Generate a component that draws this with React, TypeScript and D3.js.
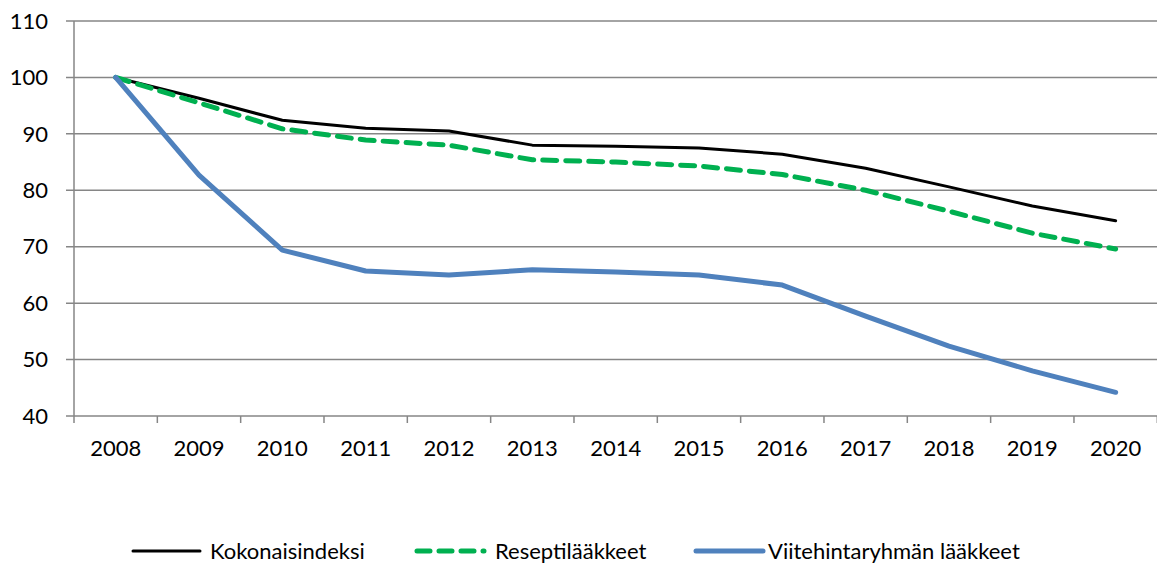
import React from "react";
import * as d3 from "d3";

const years = ["2008","2009","2010","2011","2012","2013","2014","2015","2016","2017","2018","2019","2020"];
const kokonais = [100, 96.3, 92.4, 91.0, 90.5, 88.0, 87.8, 87.5, 86.4, 83.9, 80.6, 77.2, 74.6];
const resepti = [100, 95.5, 90.9, 88.9, 88.0, 85.4, 85.0, 84.3, 82.8, 80.0, 76.3, 72.4, 69.6];
const viite = [100, 82.7, 69.4, 65.7, 65.0, 65.9, 65.5, 65.0, 63.2, 57.7, 52.4, 48.0, 44.2];
const yTicks = [40, 50, 60, 70, 80, 90, 100, 110];

const series = [
  { name: "Kokonaisindeksi", values: kokonais, color: "#000000", width: 3, dash: null as string | null },
  { name: "Reseptilääkkeet", values: resepti, color: "#00B050", width: 5, dash: "14 9" },
  { name: "Viitehintaryhmän lääkkeet", values: viite, color: "#4F81BD", width: 5, dash: null as string | null },
];

const W = 1157, H = 566;
const left = 74, right = 1157.3, top = 21, bottom = 416;
const font = "Lato, 'Open Sans', sans-serif";
const fs = 22;

export default function App() {
  const x = d3.scaleBand<string>().domain(years).range([left, right]);
  const y = d3.scaleLinear().domain([40, 110]).range([bottom, top]);
  const line = d3.line<number>()
    .x((_, i) => (x(years[i]) as number) + x.bandwidth() / 2)
    .y((d) => y(d));
  const legendItems = [
    { lx: 133, tx: 210 },
    { lx: 417, tx: 495 },
    { lx: 696, tx: 768 },
  ];
  return (
    <svg width={W} height={H} style={{ position: "absolute", left: 0, top: 0 }}>
      <rect width={W} height={H} fill="#fff" />
      {yTicks.map((t) => (
        <g key={t}>
          <line x1={66} x2={right} y1={y(t)} y2={y(t)} stroke="#868686" strokeWidth={1.5} />
          <text x={48} y={y(t)} dy="0.35em" textAnchor="end" fontFamily={font} fontSize={fs} fill="#000">{t}</text>
        </g>
      ))}
      <line x1={left} x2={left} y1={top} y2={bottom} stroke="#868686" strokeWidth={1.5} />
      {years.map((yr) => (
        <line key={"t" + yr} x1={x(yr) as number} x2={x(yr) as number} y1={bottom} y2={bottom + 7} stroke="#868686" strokeWidth={1.5} />
      ))}
      <line x1={right} x2={right} y1={bottom} y2={bottom + 7} stroke="#868686" strokeWidth={1.5} />
      {years.map((yr) => (
        <text key={yr} x={(x(yr) as number) + x.bandwidth() / 2} y={456} textAnchor="middle" fontFamily={font} fontSize={fs} fill="#000">{yr}</text>
      ))}
      {series.map((s) => (
        <path key={s.name} d={line(s.values) || ""} fill="none" stroke={s.color} strokeWidth={s.width}
          strokeDasharray={s.dash || undefined} strokeLinecap="round" strokeLinejoin="round" />
      ))}
      {series.map((s, i) => (
        <g key={"lg" + s.name}>
          <line x1={legendItems[i].lx} x2={legendItems[i].lx + 67} y1={551} y2={551} stroke={s.color}
            strokeWidth={s.width} strokeDasharray={s.dash ? "13 9" : undefined} strokeLinecap="round" />
          <text x={legendItems[i].tx} y={551} dy="0.35em" fontFamily={font} fontSize={fs} fill="#000">{s.name}</text>
        </g>
      ))}
    </svg>
  );
}
